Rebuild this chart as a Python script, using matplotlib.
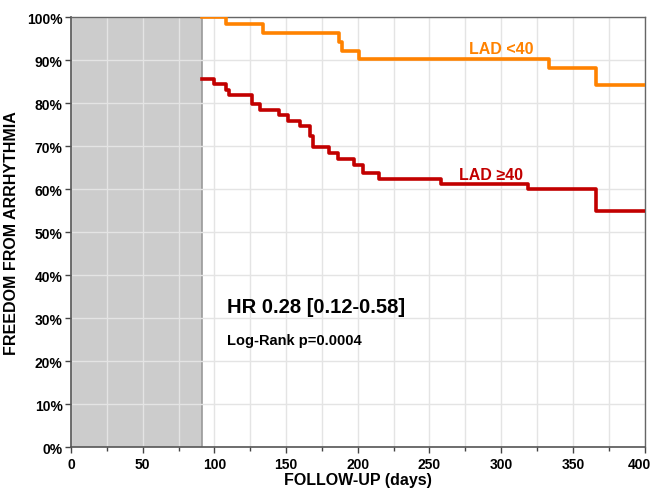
import matplotlib
matplotlib.use("Agg")
import matplotlib.pyplot as plt
import matplotlib.transforms as mtransforms
from matplotlib.ticker import MultipleLocator, FuncFormatter

# Data
low_days = [91, 108, 134, 187, 189, 201, 333, 366, 400]
low_surv = [100, 98.3, 96.3, 94.3, 92.2, 90.2, 88.1, 84.3, 84.3]

high_days = [91, 100, 108, 110, 126, 132, 145, 151, 160, 166.5, 169, 180, 186,
             197, 203.5, 215, 258, 319, 366, 400]
high_surv = [85.6, 84.4, 83.0, 82.0, 79.9, 78.5, 77.2, 75.8, 74.6, 72.4, 69.9,
             68.4, 67.1, 65.5, 63.8, 62.4, 61.2, 60.0, 55.0, 55.0]

blank_end = 91
orange = "#FF8200"
red = "#C20000"

plt.rcParams['font.family'] = ['Liberation Sans', 'DejaVu Sans']

fig = plt.figure(figsize=(6.54, 4.89), dpi=100)
ax = fig.add_axes([0.1086, 0.0838, 0.877, 0.879])

ax.axvspan(0, blank_end, color="#CCCCCC", zorder=0.2, lw=0)
ax.axvline(blank_end, color="#999999", lw=1.2, zorder=0.3)

ax.step(low_days, low_surv, where='post', color=orange, lw=2.6, zorder=3)
ax.step(high_days, high_surv, where='post', color=red, lw=2.6, zorder=3)

ax.set_xlim(0, 400)
ax.set_ylim(0, 100)
ax.xaxis.set_major_locator(MultipleLocator(50))
ax.xaxis.set_minor_locator(MultipleLocator(25))
ax.yaxis.set_major_locator(MultipleLocator(10))
ax.yaxis.set_major_formatter(FuncFormatter(lambda v, p: f"{int(v)}%"))

ax.set_axisbelow(True)
ax.grid(True, which='both', axis='x', color="#E4E4E4", lw=1)
ax.grid(True, which='major', axis='y', color="#E4E4E4", lw=1)

for s in ['left', 'bottom']:
    ax.spines[s].set_color("#555555")
    ax.spines[s].set_linewidth(1.2)
for s in ['top', 'right']:
    ax.spines[s].set_color("#666666")
    ax.spines[s].set_linewidth(1.0)

ax.tick_params(axis='both', which='both', direction='out', length=4, width=1,
               color="#444444", labelsize=10)
ax.tick_params(axis='both', which='minor', length=3)
ax.tick_params(axis='y', pad=2)
ax.tick_params(axis='x', pad=3)
fig.canvas.draw()
xlabels = ax.get_xticklabels()
for lab in xlabels + ax.get_yticklabels():
    lab.set_fontweight('bold')
# nudge last x label inward so it stays inside the image
last = [l for l in xlabels if l.get_text() == '400']
for l in last:
    l.set_transform(l.get_transform() + mtransforms.ScaledTranslation(-5 / 100, 0, fig.dpi_scale_trans))

ax.set_xlabel("FOLLOW-UP (days)", fontsize=11.5, fontweight='bold', labelpad=1)
ax.set_ylabel("FREEDOM FROM ARRHYTHMIA", fontsize=11.5, fontweight='bold', labelpad=6)

ax.text(300, 92.8, "LAD <40", color=orange, fontsize=11.5, fontweight='bold',
        ha='center', va='center')
ax.text(293, 63.5, "LAD \u226540", color=red, fontsize=11.5, fontweight='bold',
        ha='center', va='center')
ax.text(109, 32.8, "HR 0.28 [0.12-0.58]", color="black", fontsize=14.5,
        fontweight='bold', ha='left', va='center')
ax.text(109, 24.8, "Log-Rank p=0.0004", color="black", fontsize=10.5,
        fontweight='bold', ha='left', va='center')

fig.savefig("out.png", dpi=100)
